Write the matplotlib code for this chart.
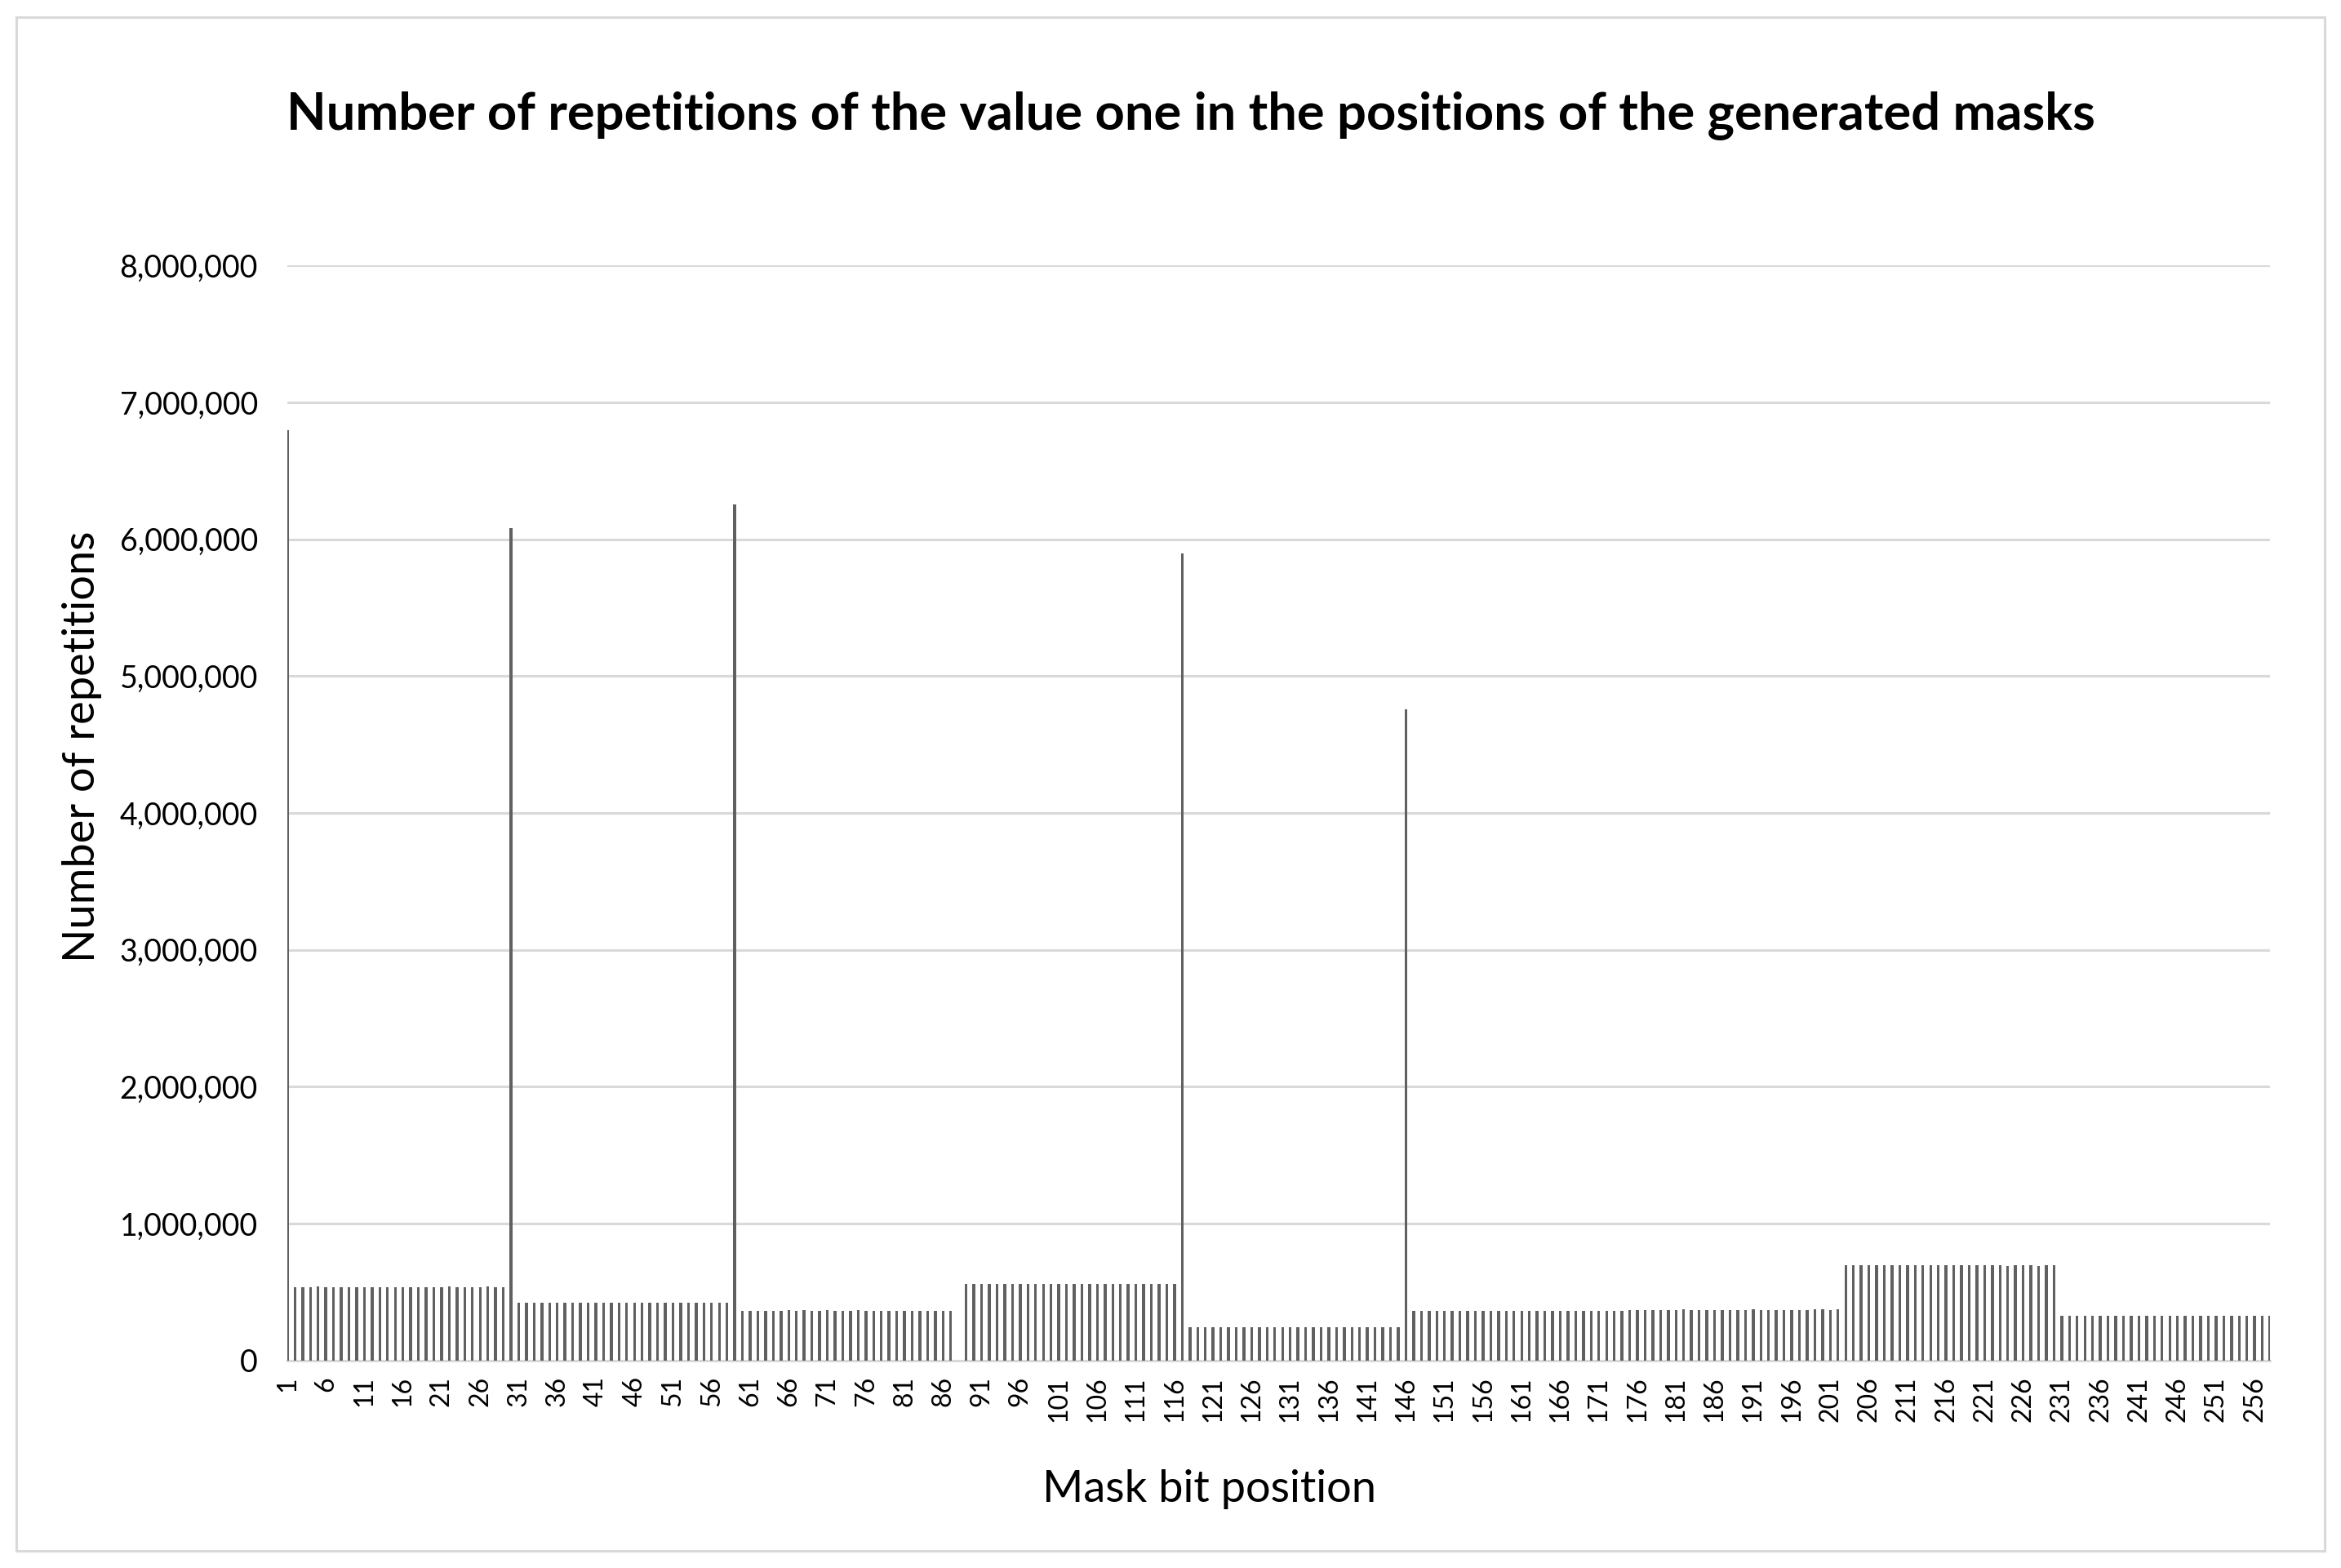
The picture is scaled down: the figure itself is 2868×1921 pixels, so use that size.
import numpy as np
import matplotlib
matplotlib.use("Agg")
import matplotlib.pyplot as plt
from matplotlib.patches import Rectangle
from matplotlib.ticker import FuncFormatter

plt.rcParams["font.family"] = ["Lato", "DejaVu Sans"]

# bit positions of the mask (categories); the chart holds 258 columns
positions = list(range(1, 259))

# values, segment by segment
spike_1 = [6800000]
group_1 = [534000, 534000, 534000, 538000, 534000, 534000, 534000, 534000, 534000, 534000,
           534000, 534000, 534000, 534000, 534000, 534000, 534000, 534000, 534000, 534000,
           538000, 534000, 534000, 534000, 534000, 538000, 534000, 534000]
spike_30 = [6080000]
group_2 = [424000, 424000, 424000, 424000, 424000, 420000, 424000, 424000, 422000, 424000,
           424000, 424000, 424000, 424000, 424000, 424000, 424000, 424000, 424000, 424000,
           424000, 424000, 424000, 424000, 424000, 424000, 420000, 424000]
spike_59 = [6255000]
group_3 = [364000, 360000, 360000, 364000, 364000, 364000, 366000, 364000, 366000, 364000,
           364000, 366000, 362000, 364000, 364000, 366000, 364000, 362000, 364000, 362000,
           362000, 362000, 362000, 362000, 362000, 364000, 364000, 364000]
zero_88 = [0]
group_4 = [558000, 558000, 558000, 558000, 558000, 558000, 558000, 558000, 558000, 558000,
           558000, 558000, 558000, 558000, 560000, 558000, 558000, 558000, 558000, 558000,
           558000, 558000, 558000, 560000, 558000, 558000, 558000, 558000]
spike_117 = [5895000]
group_5 = [244000, 244000, 244000, 244000, 244000, 244000, 244000, 244000, 244000, 244000,
           244000, 244000, 244000, 244000, 244000, 244000, 244000, 244000, 244000, 244000,
           244000, 244000, 244000, 244000, 244000, 244000, 244000, 244000]
spike_146 = [4760000]
group_6a = [362000, 362000, 360000, 362000, 360000, 360000, 360000, 360000, 360000, 360000,
            360000, 360000, 360000, 360000, 362000, 362000, 362000, 360000, 362000, 360000,
            360000, 360000, 360000, 360000, 360000, 360000, 360000, 360000]
group_6b = [370000, 370000, 370000, 370000, 370000, 370000, 370000, 372000, 370000, 370000,
            370000, 370000, 370000, 370000, 370000, 370000, 372000, 370000, 370000, 370000,
            370000, 370000, 370000, 370000, 372000, 372000, 370000, 372000]
group_7 = [694000, 694000, 694000, 694000, 694000, 694000, 694000, 694000, 694000, 694000,
           694000, 694000, 694000, 694000, 694000, 694000, 694000, 694000, 694000, 694000,
           694000, 690000, 694000, 694000, 694000, 690000, 694000, 694000]
group_8 = [326000, 328000, 326000, 326000, 326000, 326000, 326000, 326000, 326000, 326000,
           326000, 326000, 326000, 326000, 326000, 326000, 326000, 326000, 326000, 326000,
           326000, 326000, 326000, 326000, 326000, 326000, 326000, 326000]

tick_positions = list(range(1, 257, 5))
y_ticks = [0, 1000000, 2000000, 3000000, 4000000, 5000000, 6000000, 7000000, 8000000]

title = "Number of repetitions of the value one in the positions of the generated masks"
x_label = "Mask bit position"
y_label = "Number of repetitions"


def barChart(values):
    fig = plt.figure(figsize=(28.68, 19.21), dpi=100)
    ax = fig.add_axes([0.1227, 0.1324, 0.8470, 0.6982])

    ax.bar(positions, values, width=0.36, color="#606060", linewidth=0, zorder=3)

    ax.set_xlim(1, 258)
    ax.set_ylim(0, 8000000)
    ax.set_yticks(y_ticks)
    ax.yaxis.set_major_formatter(FuncFormatter(lambda v, p: f"{v:,.0f}"))
    ax.set_xticks(tick_positions)
    ax.set_xticklabels([str(t) for t in tick_positions], rotation=90)

    ax.tick_params(axis="y", length=0, pad=26, labelsize=27)
    ax.tick_params(axis="x", length=0, pad=14, labelsize=23)

    # Excel style: gridlines only, light gray base line
    ax.grid(axis="y", color="#d9d9d9", linewidth=2.2)
    ax.set_axisbelow(True)
    for side in ["left", "right", "top"]:
        ax.spines[side].set_visible(False)
    ax.spines["bottom"].set_color("#d9d9d9")
    ax.spines["bottom"].set_linewidth(2.2)

    fig.text(0.5087, 0.9265, title, ha="center", va="center",
             fontsize=45.5, fontweight="bold")
    fig.text(0.5164, 0.0500, x_label, ha="center", va="center", fontsize=39)
    fig.text(0.0349, 0.5237, y_label, ha="center", va="center",
             fontsize=39, rotation=90)

    # chart area border
    fig.patches.append(Rectangle((0.007, 0.011), 0.986, 0.978,
                                 transform=fig.transFigure, fill=False,
                                 edgecolor="#d9d9d9", linewidth=2.2))

    fig.savefig("out.png", dpi=100, facecolor="white")


def main():
    values = (spike_1 + group_1 + spike_30 + group_2 + spike_59 + group_3
              + zero_88 + group_4 + spike_117 + group_5 + spike_146
              + group_6a + group_6b + group_7 + group_8)
    barChart(np.array(values))


if __name__ == "__main__":
    main()
